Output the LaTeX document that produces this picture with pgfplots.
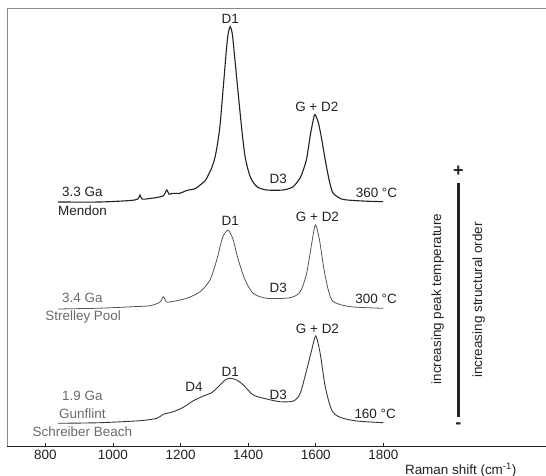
\documentclass[border=0pt]{standalone}
\usepackage{fontspec}
\setmainfont{Liberation Sans}
\usepackage{pgfplots}
\pgfplotsset{compat=1.18}

\definecolor{ink}{HTML}{222222}
\definecolor{midgray}{HTML}{555555}
\definecolor{labgray}{HTML}{6A6A6A}
\definecolor{frame}{HTML}{8A8A8A}
\tikzset{lab/.style={font=\fontsize{13.5}{16}\selectfont, inner sep=0pt}}

\begin{document}
\begin{tikzpicture}
\begin{axis}[
    name=ax,
    scale only axis,
    width=538.7bp, height=438.4bp,
    xmin=687.6, xmax=2281,
    ymin=0, ymax=438.4,
    clip=false,
    axis line style={draw=none},
    xtick={800,1000,1200,1400,1600,1800},
    xtick pos=bottom,
    ytick=\empty,
    tick align=inside,
    major tick length=4bp,
    major tick style={ink, line width=0.8bp},
    /pgf/number format/assume math mode=true,
    /pgf/number format/1000 sep={},
    xticklabel style={font=\fontsize{13.5}{16}\selectfont, text=ink},
]
% frame: left and top light, bottom dark
\draw[frame, line width=1.3bp] (rel axis cs:0,0) -- (rel axis cs:0,1) -- (rel axis cs:1,1);
\draw[ink, line width=1.1bp] (rel axis cs:0,0) -- (rel axis cs:1,0);

% 3.3 Ga Mendon, 360 C
\addplot[ink, line width=1.1bp, smooth, tension=0.45] coordinates {
(838,244.7)(962,244.7)(1051,246.2)(1074,247.7)(1080,251.7)(1086,247.7)
(1110,248.2)(1148,250.7)(1159,256.7)(1166,252.5)(1175,253.3)(1199,253.5)
(1218,256.2)(1243,258)(1258,261.7)(1273,266)(1281,271)(1290,277)
(1300,286.7)(1308,300)(1317,322)(1327,362)(1337,402)(1342,415)
(1347,420)(1352,415)(1356,404)(1368,362)(1381,318)(1391,290)
(1406,270)(1426,260)(1455,256.7)(1503,256.7)(1533,260)(1554,269)
(1563,276.7)(1573,288)(1585,313.7)(1596,331.7)(1601,330)(1608,323.7)
(1618,306.7)(1628,286.7)(1640,266)(1651,253.7)(1674,248)(1693,246.7)
(1750,245.5)(1799,245)
};
% 3.4 Ga Strelley Pool, 300 C
\addplot[midgray, line width=0.8bp, smooth, tension=0.45] coordinates {
(838,137.7)(960,138.5)(1060,140)(1110,141)(1139,144.5)(1149,150)
(1158,145)(1170,144.8)(1218,148.4)(1258,155)(1287,166.7)(1307,186.7)
(1322,206.7)(1330,213)(1340,216.7)(1348,213)(1356,206.7)(1371,186.7)
(1391,166.7)(1415,153.4)(1455,148.4)(1524,149)(1554,155)(1573,173.4)
(1588,203.4)(1599,221.7)(1611,206.7)(1623,180)(1637,156.7)(1652,145)
(1702,140)(1800,138.4)
};
% 1.9 Ga Gunflint, Schreiber Beach, 160 C
\addplot[ink!90, line width=0.9bp, smooth, tension=0.45] coordinates {
(838,23.4)(962,24)(1080,26)(1130,28.4)(1149,32.4)(1179,35)
(1208,39.4)(1238,46)(1268,50.7)(1292,54)(1312,60)(1332,66.7)
(1347,68.4)(1366,66.7)(1386,61.7)(1415,51.7)(1455,47.7)(1494,45)
(1534,45.7)(1554,53.4)(1573,76.7)(1588,96.7)(1600,110.7)(1613,93.4)
(1628,60)(1647,36.7)(1672,29.4)(1721,25.7)(1800,24)
};

% band labels
\node[lab, text=ink] at (axis cs:1347,427.7) {D1};
\node[lab, text=ink] at (axis cs:1603,340) {G + D2};
\node[lab, text=ink] at (axis cs:1489,267.4) {D3};
\node[lab, text=ink] at (axis cs:1347,225.7) {D1};
\node[lab, text=ink] at (axis cs:1605,230) {G + D2};
\node[lab, text=ink] at (axis cs:1489,158.4) {D3};
\node[lab, text=ink] at (axis cs:1605,117.4) {G + D2};
\node[lab, text=ink] at (axis cs:1347,75) {D1};
\node[lab, text=ink] at (axis cs:1240,60) {D4};
\node[lab, text=ink] at (axis cs:1489,51.7) {D3};

% sample labels
\node[lab, text=ink] at (axis cs:909.5,254.4) {3.3 Ga};
\node[lab, text=ink] at (axis cs:910,235.7) {Mendon};
\node[lab, text=ink] at (axis cs:1779.5,253.4) {360 °C};
\node[lab, text=labgray] at (axis cs:909.5,148.4) {3.4 Ga};
\node[lab, text=labgray] at (axis cs:912,129.4) {Strelley Pool};
\node[lab, text=ink] at (axis cs:1778.5,147.4) {300 °C};
\node[lab, text=labgray] at (axis cs:909.5,50.7) {1.9 Ga};
\node[lab, text=labgray] at (axis cs:909.5,33.4) {Gunflint};
\node[lab, text=labgray] at (axis cs:909.5,14.7) {Schreiber Beach};
\node[lab, text=ink] at (axis cs:1775.6,32.4) {160 °C};

% order indicator
\draw[ink, line width=3bp] (axis cs:2022,263.4) -- (axis cs:2022,30);
\node[text=ink, inner sep=0pt, font=\fontsize{18}{18}\bfseries] at (axis cs:2022,275.7) {+};
\node[text=ink, inner sep=0pt, font=\fontsize{18}{18}\bfseries] at (axis cs:2022,21) {-};
\node[lab, text=ink, rotate=90] at (axis cs:1960.5,147.7) {increasing peak temperature};
\node[lab, text=ink, rotate=90] at (axis cs:2081.8,146.7) {increasing structural order};

% axis title
\node[lab, text=ink] at (axis cs:2028.6,-23.3) {Raman shift (cm\textsuperscript{-1})};
\end{axis}
\pgfresetboundingbox
\path (ax.south west) ++(-7.3bp,-29.3bp) coordinate (bl);
\path (ax.north east) ++(0bp,8.3bp) coordinate (tr);
\path[use as bounding box] (bl) rectangle (tr);
\end{tikzpicture}
\end{document}
